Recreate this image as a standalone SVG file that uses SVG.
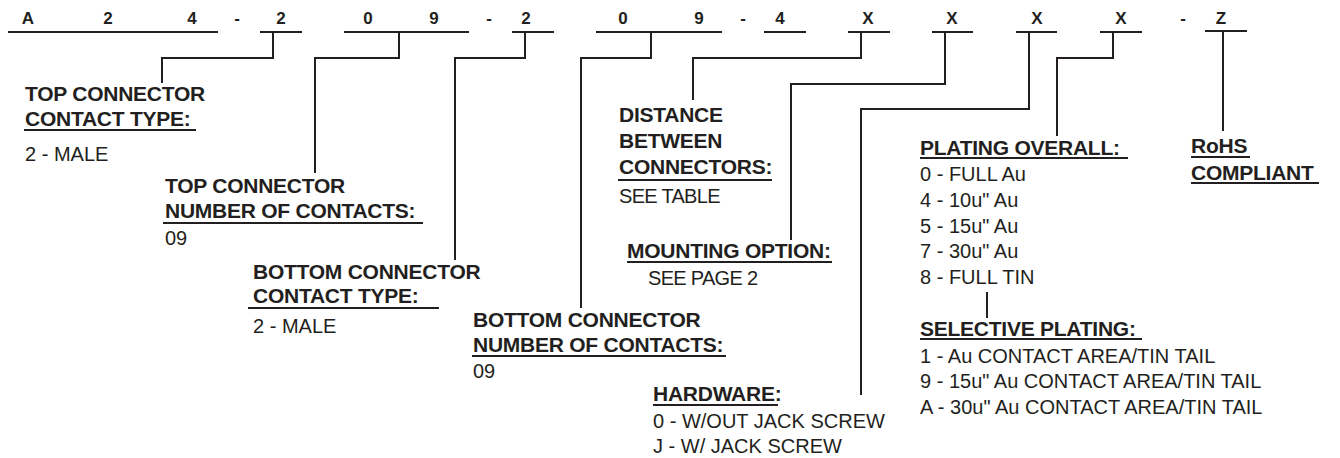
<svg xmlns="http://www.w3.org/2000/svg" width="1340" height="458" viewBox="0 0 1340 458">
<style>
text{font-family:"Liberation Sans",Arial,Helvetica,sans-serif;fill:#231f20}
.c{font-size:17px;font-weight:bold;text-anchor:middle}
.h{font-size:21px;font-weight:bold;letter-spacing:-0.25px}
.v{font-size:20px}
.t{letter-spacing:-0.7px}
.u{stroke:#231f20;stroke-width:2;fill:none}
.ul{stroke:#231f20;stroke-width:1.8;fill:none}
.w{stroke:#231f20;stroke-width:2;fill:none}
</style>
<rect width="1340" height="458" fill="#ffffff"/>
<g id="code">
<text class="c" x="28" y="24">A</text>
<text class="c" x="108" y="24">2</text>
<text class="c" x="192" y="24">4</text>
<text class="c" x="237" y="24">-</text>
<text class="c" x="281" y="24">2</text>
<text class="c" x="368" y="24">0</text>
<text class="c" x="434" y="24">9</text>
<text class="c" x="489" y="24">-</text>
<text class="c" x="526" y="24">2</text>
<text class="c" x="623" y="24">0</text>
<text class="c" x="699" y="24">9</text>
<text class="c" x="743" y="24">-</text>
<text class="c" x="780" y="24">4</text>
<text class="c" x="868" y="24">X</text>
<text class="c" x="952" y="24">X</text>
<text class="c" x="1037" y="24">X</text>
<text class="c" x="1121" y="24">X</text>
<text class="c" x="1183" y="24">-</text>
<text class="c" x="1221" y="24">Z</text>
<path class="u" d="M8,32H218M260,32H302M344,32H469M512,32H554M596,32H722M764,32H806M848,32H890M932,32H973M1016,32H1057M1100,32H1142M1205,31H1247"/>
</g>
<g id="connectors">
<polyline class="w" points="273,32 273,58 162,58 162,83"/>
<polyline class="w" points="399,32 399,58 315,58 315,173"/>
<polyline class="w" points="525,32 525,58 455,58 455,260"/>
<polyline class="w" points="651,32 651,58 581,58 581,308"/>
<polyline class="w" points="861,32 861,58 693,58 693,100"/>
<polyline class="w" points="945,32 945,84 791,84 791,240"/>
<polyline class="w" points="1029,32 1029,109 861,109 861,395"/>
<polyline class="w" points="1113,32 1113,58 1057,58 1057,136"/>
<line class="w" x1="1223" y1="31" x2="1223" y2="131"/>
<line class="w" x1="987" y1="292" x2="987" y2="318"/>
</g>
<g id="top-contact-type">
<text class="h" x="25" y="101">TOP CONNECTOR</text>
<text class="h" x="25" y="126">CONTACT TYPE:</text>
<line class="ul" x1="24" y1="130" x2="196" y2="130"/>
<text class="v" x="25" y="161">2 - MALE</text>
</g>
<g id="top-number-of-contacts">
<text class="h" x="165" y="193">TOP CONNECTOR</text>
<text class="h" x="165" y="218">NUMBER OF CONTACTS:</text>
<line class="ul" x1="163" y1="223" x2="423" y2="223"/>
<text class="v" x="165" y="245">09</text>
</g>
<g id="bottom-contact-type">
<text class="h" x="253" y="279">BOTTOM CONNECTOR</text>
<text class="h" x="253" y="303">CONTACT TYPE:</text>
<line class="ul" x1="248" y1="308" x2="439" y2="308"/>
<text class="v" x="253" y="333">2 - MALE</text>
</g>
<g id="bottom-number-of-contacts">
<text class="h" x="473" y="327">BOTTOM CONNECTOR</text>
<text class="h" x="473" y="352">NUMBER OF CONTACTS:</text>
<line class="ul" x1="472" y1="356" x2="726" y2="356"/>
<text class="v" x="473" y="378">09</text>
</g>
<g id="distance">
<text class="h" x="619" y="122">DISTANCE</text>
<text class="h" x="619" y="148">BETWEEN</text>
<text class="h" x="619" y="174">CONNECTORS:</text>
<line class="ul" x1="618" y1="180" x2="772" y2="180"/>
<text class="v t" x="619" y="203">SEE TABLE</text>
</g>
<g id="mounting">
<text class="h" x="627" y="258">MOUNTING OPTION:</text>
<line class="ul" x1="627" y1="262" x2="832" y2="262"/>
<text class="v t" x="648" y="285">SEE PAGE 2</text>
</g>
<g id="hardware">
<text class="h" x="653" y="401">HARDWARE:</text>
<line class="ul" x1="653" y1="405" x2="778" y2="405"/>
<text class="v" x="653" y="428">0 - W/OUT JACK SCREW</text>
<text class="v" x="653" y="453">J - W/ JACK SCREW</text>
</g>
<g id="plating-overall">
<text class="h" x="920" y="155">PLATING OVERALL:</text>
<line class="ul" x1="920" y1="158" x2="1128" y2="158"/>
<text class="v" x="920" y="181">0 - FULL Au</text>
<text class="v" x="920" y="207">4 - 10u" Au</text>
<text class="v" x="920" y="233">5 - 15u" Au</text>
<text class="v" x="920" y="258">7 - 30u" Au</text>
<text class="v" x="920" y="284">8 - FULL TIN</text>
</g>
<g id="selective-plating">
<text class="h" x="920" y="336">SELECTIVE PLATING:</text>
<line class="ul" x1="920" y1="339" x2="1142" y2="339"/>
<text class="v" x="920" y="363">1 - Au CONTACT AREA/TIN TAIL</text>
<text class="v" x="920" y="388">9 - 15u" Au CONTACT AREA/TIN TAIL</text>
<text class="v" x="920" y="414">A - 30u" Au CONTACT AREA/TIN TAIL</text>
</g>
<g id="rohs">
<text class="h" x="1191" y="153">RoHS</text>
<line class="ul" x1="1191" y1="157" x2="1250" y2="157"/>
<text class="h" x="1191" y="180">COMPLIANT</text>
<line class="ul" x1="1191" y1="183" x2="1319" y2="183"/>
</g>
</svg>
